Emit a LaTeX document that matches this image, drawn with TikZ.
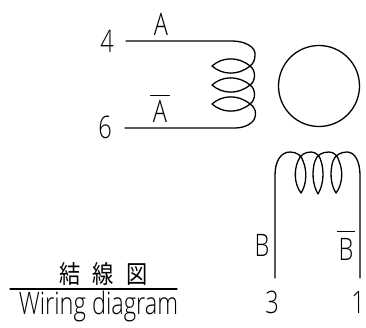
\documentclass[tikz,border=0pt]{standalone}
\usepackage{fontspec}
\setmainfont{Open Sans Light}[FakeStretch=0.76]
\newfontfamily\cjk{Noto Sans CJK JP}[FakeStretch=0.85]
\begin{document}
\begin{tikzpicture}[x=1pt,y=-1pt,
  wire/.style={line width=1.3pt,line cap=round,line join=round},
  lbl/.style={inner sep=0pt,font=\fontsize{31}{31}\selectfont,anchor=base},
  bar/.style={line width=1.1pt}]
\useasboundingbox (0,0) rectangle (366,328);
\fill[white] (0,0) rectangle (366,328);
% coil A
\coordinate (a4) at (126,41);
\coordinate (a6) at (125,128);
\draw[wire] (a4) -- (232,41)
  .. controls (245,41) and (256,47) .. (255,55)
  .. controls (255,60) and (253,64) .. (250,66)
  .. controls (238,56) and (222,57) .. (212,66)
  .. controls (222,75) and (238,76) .. (250,66)
  .. controls (256,70) and (256,81) .. (250,85)
  .. controls (238,75) and (222,76) .. (212,85)
  .. controls (222,94) and (238,95) .. (250,85)
  .. controls (256,89) and (256,100) .. (250,104)
  .. controls (238,94) and (222,95) .. (212,104)
  .. controls (222,113) and (238,114) .. (250,104)
  .. controls (256,108) and (256,113) .. (255,117)
  .. controls (254,123) and (245,128) .. (235,128)
  -- (a6);
% rotor
\node[draw,circle,line width=1.3pt,minimum size=81pt,inner sep=0pt] (rotor) at (319,86) {};
% coil B
\coordinate (b3) at (275,278);
\coordinate (b1) at (360,278);
\draw[wire] (b3) -- (275,175)
  .. controls (275,161) and (281,152) .. (290,152)
  .. controls (297,152) and (302,156) .. (303,161)
  .. controls (307,170) and (307,184) .. (301,193)
  .. controls (294,184) and (294,170) .. (298,161)
  .. controls (300,155) and (305,152) .. (311,152)
  .. controls (316,152) and (320,156) .. (321,161)
  .. controls (324,170) and (324,184) .. (318,194)
  .. controls (312,184) and (312,170) .. (315,161)
  .. controls (317,155) and (322,152) .. (329,152)
  .. controls (334,152) and (338,156) .. (339,161)
  .. controls (343,170) and (343,184) .. (336,193)
  .. controls (330,184) and (330,170) .. (333,161)
  .. controls (335,155) and (341,152) .. (347,152)
  .. controls (355,152) and (360,162) .. (360,175)
  -- (b1);
% terminal labels
\node[lbl] (n4) at (107,53) {4};
\node[lbl] (n6) at (105,139) {6};
\node[lbl] (n3) at (272,313) {3};
\node[lbl] (n1) at (358,313) {1};
\node[lbl] (la) at (161,36) {A};
\node[lbl] (lab) at (160,123) {A};
\node[lbl] (lb) at (262,257) {B};
\node[lbl] (lbb) at (346,261) {B};
\draw[bar] (150,95.5) -- (170,95.5);
\draw[bar] (337,231.5) -- (355,231.5);
% title
\node[inner sep=0pt,anchor=base,font=\cjk\fontsize{25}{25}\selectfont] (jp) at (103.5,283) {結\hspace{12pt}線\hspace{12pt}図};
\coordinate (r1) at (10,289);
\coordinate (r2) at (177,289);
\draw[wire] (r1) -- (r2);
\node[lbl] (en) at (98.5,314) {Wiring diagram};
\end{tikzpicture}
\end{document}
